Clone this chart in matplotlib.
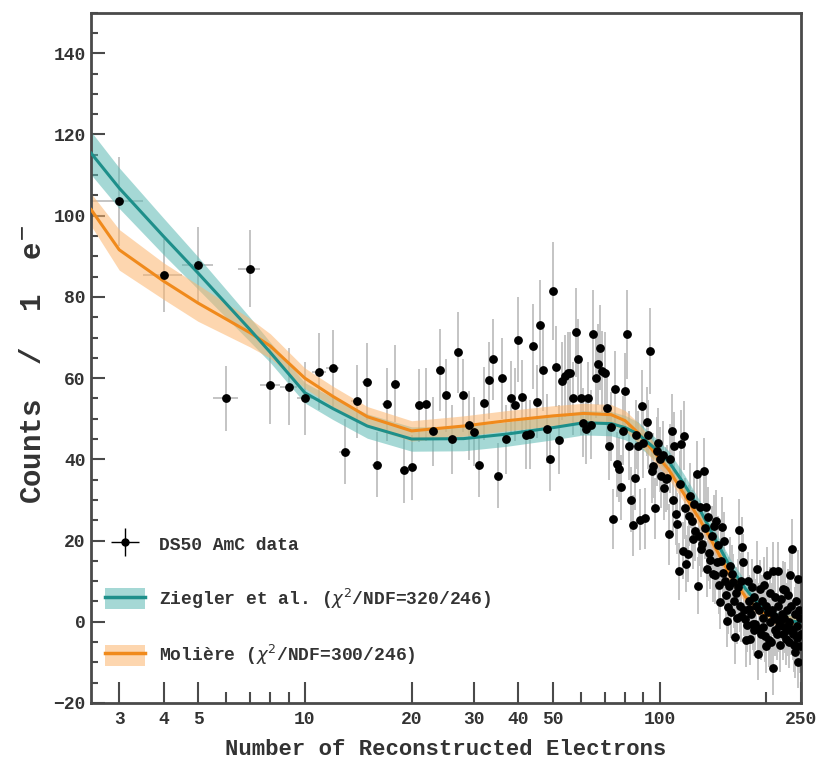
import numpy as np
import matplotlib
matplotlib.use("Agg")
import matplotlib.pyplot as plt
from matplotlib.lines import Line2D
from matplotlib.patches import Patch
from matplotlib.ticker import FixedLocator, NullFormatter, MultipleLocator

# === data ===
n_electrons = np.arange(3, 251)

counts = [
    103.5, 85.3, 87.8, 55.0, 86.9, 58.2, 57.9, 55.0, 61.6, 62.4,          # 3-12
    41.9, 54.3, 59.1, 38.7, 53.6, 58.6, 37.3, 38.1,                       # 13-20
    53.3, 53.6, 46.9, 62.0, 55.8, 45.0, 66.4, 55.8, 48.4, 46.8,           # 21-30
    38.7, 53.8, 59.5, 64.6, 35.9, 60.0, 45.0, 55.1, 53.5, 69.5,           # 31-40
    55.4, 46.0, 46.2, 67.8, 54.2, 73.2, 62.0, 47.5, 40.2, 81.5,           # 41-50
    62.8, 44.8, 59.3, 60.5, 61.3, 61.3, 55.0, 71.3, 64.6, 55.0,           # 51-60
    49.0, 47.4, 55.0, 48.5, 70.8, 60.1, 63.4, 67.5, 61.7, 61.3,           # 61-70
    52.7, 43.3, 48.0, 25.3, 57.2, 38.8, 37.6, 33.1, 47.0, 56.8,           # 71-80
    70.8, 43.3, 30.0, 23.8, 35.5, 46.0, 43.3, 25.1, 53.1, 44.0,           # 81-90
    25.5, 49.2, 46.0, 66.7, 37.2, 38.4, 27.9, 42.0, 44.1, 40.0,           # 91-100
    36.0, 41.0, 33.0, 35.1, 35.5, 21.6, 40.2, 47.0, 30.0, 43.2,           # 101-110
    26.5, 24.1, 12.4, 34.0, 43.7, 17.5, 45.8, 28.0, 14.3, 16.7,           # 111-120
    26.1, 31.0, 24.9, 20.5, 29.0, 22.4, 36.4, 8.9, 21.2, 28.2,            # 121-130
    18.0, 19.2, 37.2, 23.0, 28.2, 13.0, 25.7, 17.0, 15.1, 21.0,           # 131-140
    11.8, 23.7, 11.4, 24.9, 14.7, 19.0, 9.0, 4.8, 15.0, 23.3,             # 141-150
    12.0, 20.0, 10.1, 6.5, 0.3, 3.6, 8.9, 13.8, 2.4, 11.8,                # 151-160
    9.8, 5.0, -3.8, 7.0, 1.0, 8.5, 22.7, 4.0, 1.5, 10.0,                  # 161-170
    18.4, 14.7, 3.0, 0.7, -4.6, -0.9, 10.1, 5.0, 3.2, -4.2,               # 171-180
    2.0, 8.5, -0.5, 6.0, -2.0, -0.5, 4.0, 13.0, -7.9, -1.7,               # 181-190
    3.0, 8.1, -3.0, 5.0, -1.3, 1.0, 9.0, -3.4, 4.0, -6.0,                 # 191-200
    11.4, 2.4, -4.6, 7.0, 0.0, -5.0, 3.0, 12.6, -11.5, 1.5,               # 201-210
    -2.0, 6.0, 0.7, -3.0, 12.6, 4.0, -1.0, -0.1, -5.8, 5.7,               # 211-220
    2.0, -3.0, 8.0, 1.0, 7.7, -1.3, -4.2, 3.0, -2.0, 6.5,                 # 221-230
    0.0, -5.0, 11.4, -1.7, 4.0, 17.9, -3.0, -2.5, -5.8, -7.4,             # 231-240
    2.0, 5.0, -1.0, -4.0, 10.6, -9.9, 3.0, -6.0, 1.0, -3.0,               # 241-250
]

count_err = [
    11, 9, 9.5, 8, 9.5, 9.5, 9.5, 9, 9.5, 9.5,
    8, 9, 9.5, 8, 9, 9.5, 8, 8,
    9, 9, 8.5, 10, 9, 8.5, 10, 9, 8.5, 8.5,
    8, 9, 9.5, 10, 8, 10, 8.5, 9, 9, 10.5,
    9, 8.5, 8.5, 10.5, 9, 11, 10, 8.5, 8, 12,
    10, 8.5, 9.5, 10, 10, 10, 9, 11, 10, 9,
    8.5, 8.5, 9, 8.5, 11, 10, 10, 10.5, 10, 10,
    9, 8.5, 8.5, 7.5, 9.5, 8, 8, 8, 8.5, 9.5,
    11, 8.5, 8, 7.5, 8, 8.5, 8.5, 7.5, 9, 8.5,
    7.5, 8.5, 8.5, 10.5, 8, 8, 7.5, 8.5, 8.5, 8,
    8, 8.5, 8, 8, 8, 7.5, 8.5, 9, 8, 8.5,
    7.5, 7.5, 7, 8, 8.5, 7, 8.5, 7.5, 7, 7,
    7.5, 8, 7.5, 7.5, 8, 7.5, 8, 7, 7.5, 8,
    7, 7, 8, 7.5, 8, 7, 7.5, 7, 7, 7.5,
    7, 7.5, 7, 7.5, 7, 7, 7, 6.5, 7, 7.5,
    7, 7, 7, 6.5, 6.5, 6.5, 7, 7, 6.5, 7,
    7, 6.5, 6.5, 6.5, 6.5, 7, 7.5, 6.5, 6.5, 7,
    7.5, 7, 6.5, 6.5, 6.5, 6.5, 7, 6.5, 6.5, 6.5,
    6.5, 7, 6.5, 6.5, 6.5, 6.5, 6.5, 7, 6.5, 6.5,
    6.5, 7, 6.5, 6.5, 6.5, 6.5, 7, 6.5, 6.5, 6.5,
    7, 6.5, 6.5, 6.5, 6.5, 6.5, 6.5, 7, 6.5, 6.5,
    6.5, 6.5, 6.5, 6.5, 7, 6.5, 6.5, 6.5, 6.5, 6.5,
    6.5, 6.5, 7, 6.5, 7, 6.5, 6.5, 6.5, 6.5, 6.5,
    6.5, 6.5, 7, 6.5, 6.5, 7.5, 6.5, 6.5, 6.5, 6.5,
    6.5, 6.5, 6.5, 6.5, 7, 6.5, 6.5, 6.5, 6.5, 6.5,
]

# model curves (centre and half-width of the band)
model_x = [2.5, 3, 4, 5, 7, 8, 10, 12, 15, 20, 28, 37, 50, 61, 73, 80, 87,
           96, 106, 117, 130, 143, 158, 175, 193, 214, 250]
ziegler = [115.4, 106.8, 94.9, 85.9, 72.0, 66.3, 56.4, 52.5, 48.2, 45.0, 45.1,
           46.2, 47.8, 49.0, 48.8, 47.8, 46.2, 43.0, 39.5, 34.0, 27.5, 20.5,
           13.5, 8.0, 3.5, 0.8, -0.2]
ziegler_err = [5.3, 5.0, 4.5, 4.0, 3.0, 2.5, 2.5, 2.7, 3.0, 3.0, 3.0, 3.0, 3.0,
               3.0, 3.0, 3.0, 3.0, 2.8, 2.6, 2.4, 2.2, 2.0, 2.0, 1.8, 1.6, 1.5, 1.5]
moliere = [101.5, 91.6, 83.9, 78.5, 71.2, 67.9, 60.0, 55.5, 50.5, 47.0, 48.2,
           49.5, 50.7, 51.3, 51.0, 49.5, 46.5, 42.0, 37.5, 31.5, 25.0, 18.5,
           11.5, 6.0, 2.5, 0.5, -0.2]
moliere_err = [4.0, 5.0, 4.5, 4.5, 3.5, 3.0, 2.5, 2.5, 2.5, 2.5, 2.5, 2.5, 2.5,
               2.5, 2.5, 2.5, 2.5, 2.3, 2.2, 2.0, 2.0, 1.8, 1.8, 1.6, 1.5, 1.5, 1.5]

x_major = [3, 4, 5, 10, 20, 30, 40, 50, 100, 250]
x_minor = [6, 7, 8, 9, 60, 70, 80, 90, 200]

# === styling ===
MONO = ["Liberation Mono", "DejaVu Sans Mono"]
TEAL_LINE = "#1e8f8a"
TEAL_BAND = "#5cb9b3"
ORANGE_LINE = "#f08a1c"
ORANGE_BAND = "#fcb56e"
SPINE = "#4a4a4a"

fig = plt.figure(figsize=(8.36, 7.73), dpi=100)
ax = fig.add_axes([0.109, 0.0906, 0.849, 0.893])

ax.errorbar(n_electrons, counts, yerr=count_err, xerr=0.5, fmt="none",
            ecolor="#c4c4c4", elinewidth=1.4, zorder=1)

ax.fill_between(model_x, np.array(ziegler) - np.array(ziegler_err),
                np.array(ziegler) + np.array(ziegler_err),
                color=TEAL_BAND, alpha=0.55, lw=0, zorder=2)
ax.fill_between(model_x, np.array(moliere) - np.array(moliere_err),
                np.array(moliere) + np.array(moliere_err),
                color=ORANGE_BAND, alpha=0.55, lw=0, zorder=2)
ax.plot(model_x, moliere, color=ORANGE_LINE, lw=2.2, zorder=3)
ax.plot(model_x, ziegler, color=TEAL_LINE, lw=2.2, zorder=3)

ax.plot(n_electrons, counts, "o", color="black", ms=5.3, zorder=4)

ax.set_xscale("log")
ax.set_xlim(2.5, 250)
ax.set_ylim(-20, 150)

ax.xaxis.set_major_locator(FixedLocator(x_major))
ax.xaxis.set_minor_locator(FixedLocator(x_minor))
ax.set_xticklabels([str(v) for v in x_major])
ax.xaxis.set_minor_formatter(NullFormatter())
ax.yaxis.set_major_locator(MultipleLocator(20))
ax.yaxis.set_minor_locator(MultipleLocator(5))

ax.tick_params(axis="x", which="major", direction="in", length=15, width=1.5,
               color=SPINE, pad=6)
ax.tick_params(axis="x", which="minor", direction="in", length=8, width=1.5,
               color=SPINE)
ax.tick_params(axis="y", which="major", direction="in", length=10, width=1.5,
               color=SPINE, pad=4)
ax.tick_params(axis="y", which="minor", direction="in", length=5, width=1.5,
               color=SPINE)
for lab in ax.get_xticklabels() + ax.get_yticklabels():
    lab.set_family(MONO)
    lab.set_fontweight("bold")
    lab.set_fontsize(13)
    lab.set_color("#333333")

for sp in ax.spines.values():
    sp.set_color(SPINE)
    sp.set_linewidth(2)

ax.set_xlabel("Number of Reconstructed Electrons", family=MONO,
              fontweight="bold", fontsize=16, color="#333333", labelpad=8)
ax.set_ylabel("Counts  /  1  e$^{-}$", family=MONO, fontweight="bold",
              fontsize=21, color="#333333")
ax.yaxis.set_label_coords(-0.062, 0.49)

# legend
h_data = (Line2D([], [], color="black", marker="+", ms=20, mew=1, ls="none"),
          Line2D([], [], color="black", marker="o", ms=5, ls="none"))
h_zieg = (Patch(facecolor=TEAL_BAND, alpha=0.55, lw=0),
          Line2D([], [], color=TEAL_LINE, lw=2.5))
h_mol = (Patch(facecolor=ORANGE_BAND, alpha=0.55, lw=0),
         Line2D([], [], color=ORANGE_LINE, lw=2.5))
leg = ax.legend([h_data, h_zieg, h_mol],
                ["DS50 AmC data",
                 r"Ziegler et al. ($\chi^2$/NDF=320/246)",
                 r"Molière ($\chi^2$/NDF=300/246)"],
                loc="lower left", bbox_to_anchor=(-0.003, 0.028), frameon=False,
                handlelength=2.2, handleheight=1.4, labelspacing=1.8,
                handletextpad=0.8,
                prop={"family": MONO, "weight": "bold", "size": 13})
for t in leg.get_texts():
    t.set_color("#333333")

fig.savefig("out.png", dpi=100)
